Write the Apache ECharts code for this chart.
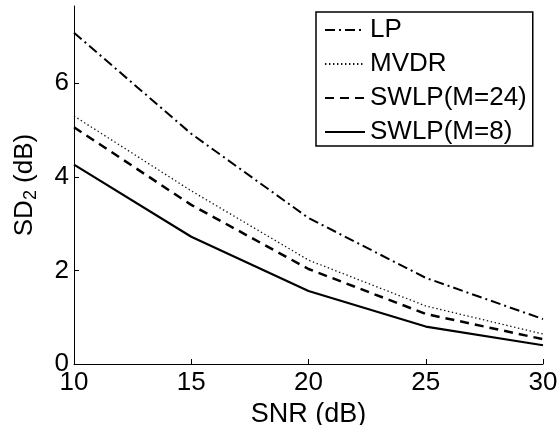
<!DOCTYPE html>
<html>
<head>
<meta charset="utf-8">
<script src="https://cdn.jsdelivr.net/npm/echarts@6/dist/echarts.min.js"></script>
<style>html,body{margin:0;padding:0;background:#fff}#c{width:558px;height:425px}</style>
</head>
<body>
<div id="c"></div>
<script>
var snr = [10, 15, 20, 25, 30];
var seriesNames = ['LP', 'MVDR', 'SWLP(M=24)', 'SWLP(M=8)'];
var lpValues = [7.08, 4.92, 3.12, 1.84, 0.96];
var mvdrValues = [5.30, 3.70, 2.22, 1.24, 0.64];
var swlp24Values = [5.06, 3.40, 2.03, 1.07, 0.53];
var swlp8Values = [4.26, 2.72, 1.56, 0.80, 0.40];
var xTicks = [10, 15, 20, 25, 30];
var yTicks = [0, 2, 4, 6];

var FONT = 'Liberation Sans, Arial, Helvetica, sans-serif';
function pairs(vals) { return snr.map(function (x, i) { return [x, vals[i]]; }); }

var styles = [
  {width: 2, type: [10, 4, 2, 4], color: '#000'},
  {width: 1.3, type: [1.4, 2.6], color: '#111'},
  {width: 2.5, type: [9, 6], color: '#000'},
  {width: 2.2, type: 'solid', color: '#000'}
];
var valueSets = [lpValues, mvdrValues, swlp24Values, swlp8Values];

var chart = echarts.init(document.getElementById('c'), null, {renderer: 'canvas'});
chart.setOption({
  animation: false,
  backgroundColor: '#fff',
  grid: {left: 74, right: 15, top: 6, bottom: 61, containLabel: false, outerBoundsMode: 'none'},
  legend: {
    orient: 'vertical',
    left: 316, top: 12,
    data: seriesNames,
    itemWidth: 40, itemHeight: 20, itemGap: 8, itemTextGap: 6,
    padding: [5, 6, 1, 8],
    borderColor: '#000', borderWidth: 1.5,
    backgroundColor: '#fff',
    itemStyle: {opacity: 0},
    textStyle: {fontFamily: FONT, fontSize: 26, color: '#000', lineHeight: 24}
  },
  xAxis: {
    type: 'value', min: 10, max: 30, interval: 5,
    name: 'SNR (dB)', nameLocation: 'middle', nameGap: 29,
    nameTextStyle: {fontFamily: FONT, fontSize: 27, color: '#000'},
    axisLine: {onZero: false, lineStyle: {color: '#000', width: 1}},
    axisTick: {inside: true, length: 5, lineStyle: {color: '#000'}, customValues: xTicks},
    axisLabel: {fontFamily: FONT, fontSize: 26, color: '#000', margin: 6, customValues: xTicks},
    splitLine: {show: false}
  },
  yAxis: {
    type: 'value', min: 0, max: 7.65, interval: 2,
    name: 'SD{sub|2} (dB)', nameLocation: 'middle', nameGap: 34, nameRotate: 90,
    nameTextStyle: {fontFamily: FONT, fontSize: 26, color: '#000',
      rich: {sub: {fontFamily: FONT, fontSize: 18, color: '#000', verticalAlign: 'bottom', padding: [12, 0, 0, 0]}}},
    axisLine: {show: true, lineStyle: {color: '#000', width: 1}},
    axisTick: {show: true, inside: true, length: 5, lineStyle: {color: '#000'}, customValues: yTicks},
    axisLabel: {fontFamily: FONT, fontSize: 26, color: '#000', margin: 5, customValues: yTicks},
    splitLine: {show: false}
  },
  series: seriesNames.map(function (n, i) {
    return {
      name: n, type: 'line', data: pairs(valueSets[i]),
      symbol: 'none', showSymbol: false,
      lineStyle: styles[i], itemStyle: {color: styles[i].color}
    };
  })
});
</script>
</body>
</html>
